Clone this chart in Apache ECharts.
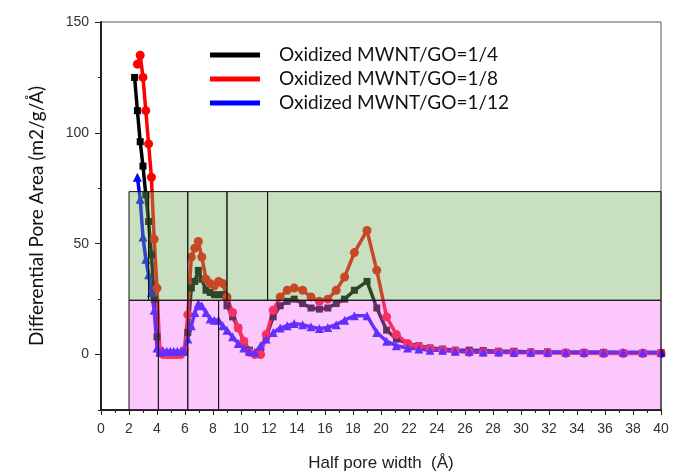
<!DOCTYPE html>
<html>
<head>
<meta charset="utf-8">
<script src="https://cdn.jsdelivr.net/npm/echarts@6/dist/echarts.min.js"></script>
<style>
  html, body { margin: 0; padding: 0; background: #fff; }
  #chart { width: 673px; height: 473px; }
</style>
</head>
<body>
<div id="chart"></div>
<script>
// half pore width (Å)
var poreWidth = [2.4, 2.6, 2.8, 3.0, 3.2, 3.4, 3.6, 3.8, 4.0, 4.2, 4.45, 4.7, 4.95, 5.2, 5.45, 5.7, 5.95,
  6.2, 6.45, 6.7, 6.95, 7.2, 7.5, 7.8, 8.1, 8.4, 8.7, 9.0, 9.4, 9.8, 10.2, 10.6, 11.0, 11.4, 11.8,
  12.3, 12.8, 13.3, 13.8, 14.4, 15.0, 15.6, 16.2, 16.8, 17.4, 18.1, 19.0, 19.7, 20.4, 21.1, 21.9,
  22.7, 23.5, 24.4, 25.3, 26.3, 27.3, 28.4, 29.5, 30.7, 31.9, 33.2, 34.5, 35.9, 37.3, 38.7, 40.0];

// differential pore area (m2/g/Å)
var go4 = [125, 110, 96, 85, 72, 60, 45, 25, 8, 1, 0.5, 0.5, 0.5, 0.5, 0.5, 0.5, 1,
  10, 30, 33, 38, 34, 29, 28, 27, 27, 27, 22, 17, 12, 6, 2, 0.5, 1, 8,
  17, 22, 24, 25, 23, 21, 20.5, 21, 23, 25, 29, 33, 21, 11, 7, 5,
  4, 3, 2.5, 2, 2, 1.8, 1.5, 1.5, 1.2, 1.2, 1, 1, 1, 0.8, 0.8, 0.8];
var go8 = [null, 131, 135, 125, 110, 95, 80, 52, 30, 2, 0, 0, 0, 0, 0, 0, 2,
  18, 44, 48, 51, 44, 34, 32, 31, 33, 32, 26, 19, 12, 6, 1, 0, 0, 9,
  20, 26, 29, 30, 29, 26, 24, 25, 29, 35, 46, 56, 38, 17, 9, 5,
  3.5, 2.5, 2, 1.5, 1, 1, 1, 0.8, 0.8, 0.7, 0.6, 0.6, 0.5, 0.5, 0.5, 0.5];
var go12 = [null, 80, 70, 53, 43, 36, 28, 20, 3, 1, 1.5, 1.5, 1.5, 1.5, 1.5, 1.5, 2,
  7, 13, 19, 23, 22, 19, 16, 15.5, 15.5, 13, 11, 8, 5, 3, 1.5, 1, 4, 7,
  10, 12, 13, 14, 13.5, 12.5, 11.8, 12.2, 13.5, 15.5, 17.5, 17.5, 10, 6, 4, 3,
  2.5, 2, 2, 1.5, 1.5, 1.2, 1.2, 1, 1, 1, 1, 1, 1, 1, 1, 1];

var seriesNames = ['Oxidized MWNT/GO=1/4', 'Oxidized MWNT/GO=1/8', 'Oxidized MWNT/GO=1/12'];

// shaded bands: [x from, x to, y from, y to, band]
var bands = [
  [2, 4.1, -25, 24.5, 0], [4.1, 6.2, -25, 24.5, 0], [6.2, 8.4, -25, 24.5, 0], [8.4, 40, -25, 24.5, 0],
  [2, 3.4, 24.5, 73.5, 1], [3.4, 6.2, 24.5, 73.5, 1], [6.2, 9, 24.5, 73.5, 1], [9, 11.9, 24.5, 73.5, 1],
  [11.9, 40, 24.5, 73.5, 1]
];

function pairs(vals) {
  var out = [];
  for (var i = 0; i < poreWidth.length; i++) {
    if (vals[i] != null) out.push([poreWidth[i], vals[i]]);
  }
  return out;
}

var bandFill = ['rgba(247,117,247,0.4)', 'rgba(117,177,97,0.4)'];

var chart = echarts.init(document.getElementById('chart'));
chart.setOption({
  animation: false,
  grid: {
    left: 101, top: 22, width: 560, height: 388, outerBoundsMode: 'none',
    show: true, borderColor: '#555', borderWidth: 1
  },
  legend: {
    data: seriesNames,
    orient: 'vertical',
    left: 205, top: 40,
    icon: 'rect',
    itemWidth: 50, itemHeight: 5, itemGap: 4,
    textStyle: { fontFamily: 'Lato', fontSize: 19, color: '#111', lineHeight: 20, padding: [0, 0, 0, 14] }
  },
  xAxis: {
    type: 'value', min: 0, max: 40, interval: 2,
    name: 'Half pore width  (Å)', nameLocation: 'middle', nameGap: 45,
    nameTextStyle: { fontFamily: 'Liberation Sans', fontSize: 17, color: '#222' },
    axisLine: { onZero: false, lineStyle: { color: '#222', width: 2 } },
    axisTick: { length: 5, lineStyle: { color: '#222' } },
    minorTick: { show: true, splitNumber: 2, length: 3, lineStyle: { color: '#222' } },
    axisLabel: { fontFamily: 'Liberation Sans', fontSize: 14, color: '#333', margin: 12 },
    splitLine: { show: false }
  },
  yAxis: [{
    type: 'value', min: -25, max: 150, interval: 25,
    name: 'Differential Pore Area (m2/g/Å)', nameLocation: 'middle', nameGap: 55,
    nameTextStyle: { fontFamily: 'Lato', fontSize: 19, color: '#111' },
    axisLine: { show: true, onZero: false, lineStyle: { color: '#222', width: 2 } },
    axisTick: { show: true, length: 6, lineStyle: { color: '#222' }, customValues: [0, 50, 100, 150] },
    axisLabel: { fontFamily: 'Liberation Sans', fontSize: 14, color: '#333', margin: 12, customValues: [0, 50, 100, 150] },
    splitLine: { show: false }
  }, {
    type: 'value', min: -25, max: 150, interval: 25, position: 'left',
    axisLine: { show: false, onZero: false },
    axisTick: { show: true, length: 3, lineStyle: { color: '#222' } },
    axisLabel: { show: false },
    splitLine: { show: false }
  }],
  series: [
    {
      name: seriesNames[0], type: 'line', data: pairs(go4), z: 2,
      symbol: 'rect', symbolSize: 7, showAllSymbol: true,
      lineStyle: { width: 3.5, color: '#000' }, itemStyle: { color: '#000' }
    },
    {
      name: seriesNames[1], type: 'line', data: pairs(go8), z: 2,
      symbol: 'circle', symbolSize: 9, showAllSymbol: true,
      lineStyle: { width: 3.5, color: '#ff0000' }, itemStyle: { color: '#ff0000' }
    },
    {
      name: seriesNames[2], type: 'line', data: pairs(go12), z: 2,
      symbol: 'triangle', symbolSize: 9, showAllSymbol: true,
      lineStyle: { width: 3.5, color: '#0000ff' }, itemStyle: { color: '#0000ff' }
    },
    {
      type: 'custom', z: 5, silent: true,
      data: bands,
      encode: { x: [0, 1], y: [2, 3] },
      renderItem: function (params, api) {
        var p0 = api.coord([api.value(0), api.value(3)]);
        var p1 = api.coord([api.value(1), api.value(2)]);
        return {
          type: 'rect',
          shape: { x: p0[0], y: p0[1], width: p1[0] - p0[0], height: p1[1] - p0[1] },
          style: { fill: bandFill[api.value(4)], stroke: '#111', lineWidth: 1 }
        };
      }
    }
  ]
});
</script>
</body>
</html>
